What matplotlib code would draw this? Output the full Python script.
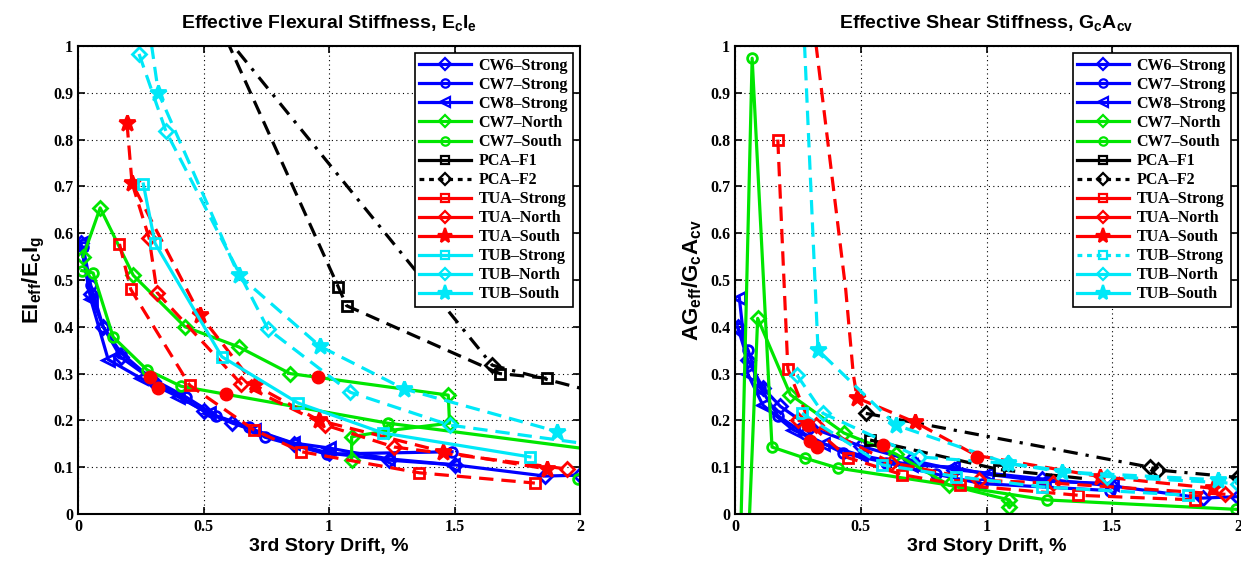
import numpy as np
import matplotlib
matplotlib.use("Agg")
import matplotlib.pyplot as plt
from matplotlib.lines import Line2D
from matplotlib.ticker import FuncFormatter

plt.rcParams['mathtext.fontset'] = 'custom'
plt.rcParams['mathtext.bf'] = 'Liberation Sans:bold'
plt.rcParams['mathtext.rm'] = 'Liberation Sans:bold'
plt.rcParams['mathtext.default'] = 'bf'

nan = np.nan

# ---------------- flexural stiffness (left) ----------------
flex_cw6_x = [0.01, 0.05, 0.10, 0.17, 0.30, 0.50, 0.615, 0.86, 1.00, 1.24, 1.50, 1.86, 2.00]
flex_cw6_y = [0.58, 0.47, 0.40, 0.335, 0.285, 0.22, 0.194, 0.15, 0.13, 0.115, 0.105, 0.081, 0.083]
flex_cw7s_x = [0.02, 0.05, 0.10, 0.17, 0.29, 0.43, 0.55, 0.68, 0.745, 0.99, 1.49]
flex_cw7s_y = [0.57, 0.49, 0.40, 0.345, 0.29, 0.25, 0.21, 0.186, 0.164, 0.128, 0.133]
flex_cw8_x = [0.01, 0.05, 0.12, 0.25, 0.40, 0.52, 0.70, 0.855, 1.00, 1.235, 1.495]
flex_cw8_y = [0.58, 0.46, 0.33, 0.29, 0.25, 0.215, 0.18, 0.152, 0.141, 0.118, 0.105]
flex_cw7n_x = [0.02, 0.088, 0.22, 0.426, 0.64, 0.845, 1.475, 1.48, 1.235, 1.09, 1.09]
flex_cw7n_y = [0.55, 0.654, 0.51, 0.40, 0.357, 0.30, 0.254, 0.194, 0.178, 0.165, 0.115]
flex_cw7so_x = [0.015, 0.06, 0.14, 0.275, 0.41, 1.235, 2.3, nan, 1.99]
flex_cw7so_y = [0.52, 0.515, 0.378, 0.308, 0.273, 0.194, 0.12, nan, 0.075]
flex_pca1_x = [0.35, 1.037, 1.07, 1.68, 1.87]
flex_pca1_y = [1.30, 0.485, 0.445, 0.30, 0.29]
flex_pca2_x = [0.40, 1.65, 2.10]
flex_pca2_y = [1.145, 0.318, 0.255]
flex_tuas_x = [0.165, 0.21, 0.445, 0.70, 0.89, 1.36, 1.82]
flex_tuas_y = [0.577, 0.48, 0.275, 0.18, 0.133, 0.088, 0.066]
flex_tuan_x = [0.215, 0.283, 0.315, 0.65, 0.985, 1.26, 1.95]
flex_tuan_y = [0.707, 0.59, 0.473, 0.278, 0.19, 0.143, 0.096]
flex_tuaso_x = [0.195, 0.215, 0.486, 0.705, 0.96, 1.455, 1.87]
flex_tuaso_y = [0.835, 0.707, 0.425, 0.275, 0.20, 0.133, 0.096]
flex_tubs_x = [0.26, 0.307, 0.573, 0.877, 1.216, 1.80]
flex_tubs_y = [0.705, 0.578, 0.336, 0.237, 0.173, 0.122]
flex_tubn_x = [0.243, 0.35, 0.757, 1.085, 1.48, 2.05]
flex_tubn_y = [0.983, 0.818, 0.395, 0.26, 0.19, 0.148]
flex_tubso_x = [0.28, 0.32, 0.64, 0.965, 1.30, 1.91]
flex_tubso_y = [1.05, 0.90, 0.51, 0.358, 0.267, 0.176]
flex_dots_x = [0.287, 0.32, 0.59, 0.956]
flex_dots_y = [0.293, 0.27, 0.256, 0.293]

# ---------------- shear stiffness (right) ----------------
shear_cw6_x = [0.01, 0.05, 0.11, 0.18, 0.30, 0.50, 0.70, 0.87, 1.22, 1.50, 1.86, 2.00]
shear_cw6_y = [0.40, 0.33, 0.27, 0.23, 0.185, 0.145, 0.115, 0.095, 0.075, 0.06, 0.034, 0.037]
shear_cw7s_x = [0.012, 0.052, 0.10, 0.17, 0.28, 0.43, 0.60, 0.80, 0.98, 1.49]
shear_cw7s_y = [0.397, 0.35, 0.27, 0.21, 0.17, 0.13, 0.11, 0.085, 0.065, 0.05]
shear_cw8_x = [0.017, 0.05, 0.11, 0.23, 0.35, 0.50, 0.70, 0.867, 1.00, 1.23, 1.50]
shear_cw8_y = [0.462, 0.30, 0.233, 0.18, 0.15, 0.125, 0.105, 0.10, 0.085, 0.07, 0.065]
shear_cw7n_x = [0.05, 0.09, 0.22, 0.433, 0.64, 0.85, 1.09, 1.09]
shear_cw7n_y = [-0.1, 0.418, 0.255, 0.173, 0.128, 0.062, 0.03, 0.015]
shear_cw7so_x = [0.02, 0.068, 0.147, 0.28, 0.41, 1.24, 1.99]
shear_cw7so_y = [-0.1, 0.974, 0.143, 0.119, 0.098, 0.03, 0.01]
shear_pca1_x = [0.537, 1.05, 1.40]
shear_pca1_y = [0.158, 0.095, 0.075]
shear_pca2_x = [0.52, 1.65, 1.68, 2.00]
shear_pca2_y = [0.215, 0.10, 0.094, 0.078]
shear_tuas_x = [0.17, 0.21, 0.30, 0.45, 0.665, 0.895, 1.365, 1.83]
shear_tuas_y = [0.80, 0.31, 0.19, 0.12, 0.084, 0.062, 0.04, 0.03]
shear_tuan_x = [0.25, 0.32, 0.62, 0.97, 1.265, 1.95]
shear_tuan_y = [0.20, 0.19, 0.11, 0.072, 0.066, 0.042]
shear_tuaso_x = [0.30, 0.44, 0.47, 0.485, 0.716, 0.96, 1.45, 1.90]
shear_tuaso_y = [1.10, 0.48, 0.30, 0.248, 0.196, 0.125, 0.08, 0.055]
shear_tubs_x = [0.266, 0.585, 0.88, 1.22, 1.80]
shear_tubs_y = [0.215, 0.105, 0.08, 0.058, 0.04]
shear_tubn_x = [0.246, 0.35, 0.73, 1.085, 1.48, 2.00]
shear_tubn_y = [0.297, 0.215, 0.122, 0.108, 0.08, 0.065]
shear_tubso_x = [0.26, 0.33, 0.64, 1.085, 1.30, 1.92, 2.05]
shear_tubso_y = [1.20, 0.35, 0.19, 0.108, 0.09, 0.073, 0.07]
shear_dots_x = [0.29, 0.30, 0.325, 0.59, 0.962]
shear_dots_y = [0.19, 0.155, 0.143, 0.147, 0.122]

labels = ['CW6\u2013Strong', 'CW7\u2013Strong', 'CW8\u2013Strong', 'CW7\u2013North', 'CW7\u2013South',
          'PCA\u2013F1', 'PCA\u2013F2', 'TUA\u2013Strong', 'TUA\u2013North', 'TUA\u2013South',
          'TUB\u2013Strong', 'TUB\u2013North', 'TUB\u2013South']

BLUE = '#0000ff'
GREEN = '#00e600'
BLACK = '#000000'
RED = '#ff0000'
CYAN = '#00e8f8'
colors = [BLUE, BLUE, BLUE, GREEN, GREEN, BLACK, BLACK, RED, RED, RED, CYAN, CYAN, CYAN]
markers = ['D', 'o', '<', 'D', 'o', 's', 'D', 's', 'D', '*', 's', 'D', '*']
msizes = [7, 7, 8, 7, 7, 7, 7, 7, 7, 12, 7, 7, 12]

DASH = (0, (4.5, 2.5))
DASHDOT = (0, (4.5, 2.5, 1, 2.5))
SOLID = '-'
flex_styles = [SOLID, SOLID, SOLID, SOLID, SOLID, DASH, DASHDOT, DASH, DASH, DASH, SOLID, DASH, DASH]
shear_styles = [SOLID, SOLID, SOLID, SOLID, SOLID, DASH, DASHDOT, DASH, DASH, DASH, DASH, DASH, DASH]
LEG_DOT = (0, (1.5, 1.5))
flex_leg_styles = [SOLID] * 13
flex_leg_styles[6] = LEG_DOT
shear_leg_styles = [SOLID] * 13
shear_leg_styles[6] = LEG_DOT
shear_leg_styles[10] = LEG_DOT

flex_series = [(flex_cw6_x, flex_cw6_y), (flex_cw7s_x, flex_cw7s_y), (flex_cw8_x, flex_cw8_y),
               (flex_cw7n_x, flex_cw7n_y), (flex_cw7so_x, flex_cw7so_y),
               (flex_pca1_x, flex_pca1_y), (flex_pca2_x, flex_pca2_y),
               (flex_tuas_x, flex_tuas_y), (flex_tuan_x, flex_tuan_y), (flex_tuaso_x, flex_tuaso_y),
               (flex_tubs_x, flex_tubs_y), (flex_tubn_x, flex_tubn_y), (flex_tubso_x, flex_tubso_y)]
shear_series = [(shear_cw6_x, shear_cw6_y), (shear_cw7s_x, shear_cw7s_y), (shear_cw8_x, shear_cw8_y),
                (shear_cw7n_x, shear_cw7n_y), (shear_cw7so_x, shear_cw7so_y),
                (shear_pca1_x, shear_pca1_y), (shear_pca2_x, shear_pca2_y),
                (shear_tuas_x, shear_tuas_y), (shear_tuan_x, shear_tuan_y), (shear_tuaso_x, shear_tuaso_y),
                (shear_tubs_x, shear_tubs_y), (shear_tubn_x, shear_tubn_y), (shear_tubso_x, shear_tubso_y)]
# which points carry a marker (None = all)
flex_every = [None] * 13
flex_every[8] = list(range(1, len(flex_tuan_x)))
shear_every = [None] * 13
shear_every[3] = list(range(1, len(shear_cw7n_x)))
shear_every[4] = list(range(1, len(shear_cw7so_x)))
shear_every[5] = [0, 1]
shear_every[7] = [0, 1, 3, 4, 5, 6, 7]
shear_every[9] = [3, 4, 6, 7]

LW = 2.3
fig = plt.figure(figsize=(12.41, 5.65), dpi=100)
ax1 = fig.add_axes([0.0629, 0.0903, 0.4045, 0.8283])
ax2 = fig.add_axes([0.5923, 0.0903, 0.4053, 0.8283])


def draw(ax, series, styles, every, dots_x, dots_y, leg_styles):
    for i, (x, y) in enumerate(series):
        filled = markers[i] == '*'
        ax.plot(x, y, color=colors[i], linestyle=styles[i], linewidth=LW, marker=markers[i],
                markersize=msizes[i], markevery=every[i],
                markerfacecolor=colors[i] if filled else 'none', markeredgewidth=2)
    ax.plot(dots_x, dots_y, linestyle='none', marker='o', markersize=9, color=RED)
    handles = []
    for i in range(13):
        filled = markers[i] == '*'
        handles.append(Line2D([], [], color=colors[i], linestyle=leg_styles[i], linewidth=LW,
                              marker=markers[i], markersize=msizes[i] - 1,
                              markerfacecolor=colors[i] if filled else 'none', markeredgewidth=1.6))
    leg = ax.legend(handles, labels, loc='upper right',
                    prop={'family': 'Liberation Serif', 'weight': 'bold', 'size': 11.5},
                    handlelength=3.2, labelspacing=0.19, borderpad=0.3, handletextpad=0.5,
                    borderaxespad=0.45, fancybox=False, framealpha=1)
    leg.get_frame().set_edgecolor('black')
    leg.get_frame().set_linewidth(1.2)
    ax.set_xlim(0, 2)
    ax.set_ylim(0, 1)
    ax.set_xticks([0, 0.5, 1, 1.5, 2])
    ax.set_yticks(np.arange(0, 1.01, 0.1))
    fmt = FuncFormatter(lambda v, p: ('%g' % round(v, 2)))
    ax.xaxis.set_major_formatter(fmt)
    ax.yaxis.set_major_formatter(fmt)
    ax.grid(True, linestyle=(0, (1, 3)), color='black', linewidth=0.8)
    ax.tick_params(direction='in', top=True, right=True, length=5, width=1.2, labelsize=11.5)
    for lab in ax.get_xticklabels() + ax.get_yticklabels():
        lab.set_fontfamily('Liberation Serif')
        lab.set_fontweight('bold')
    for s in ax.spines.values():
        s.set_linewidth(1.5)
    ax.set_xlabel('3rd Story Drift, %', fontsize=14, fontweight='bold', family='Liberation Sans', labelpad=2)


draw(ax1, flex_series, flex_styles, flex_every, flex_dots_x, flex_dots_y, flex_leg_styles)
draw(ax2, shear_series, shear_styles, shear_every, shear_dots_x, shear_dots_y, shear_leg_styles)

ax1.set_title(r'Effective Flexural Stiffness, E$_c$I$_e$', fontsize=14, fontweight='bold',
              family='Liberation Sans', pad=13)
ax2.set_title(r'Effective Shear Stiffness, G$_c$A$_{cv}$', fontsize=14, fontweight='bold',
              family='Liberation Sans', pad=13)
ax1.set_ylabel(r'EI$_{eff}$/E$_c$I$_g$', fontsize=16, fontweight='bold', family='Liberation Sans', labelpad=4)
ax2.set_ylabel(r'AG$_{eff}$/G$_c$A$_{cv}$', fontsize=16, fontweight='bold', family='Liberation Sans', labelpad=4)

fig.savefig('out.png', dpi=100)
